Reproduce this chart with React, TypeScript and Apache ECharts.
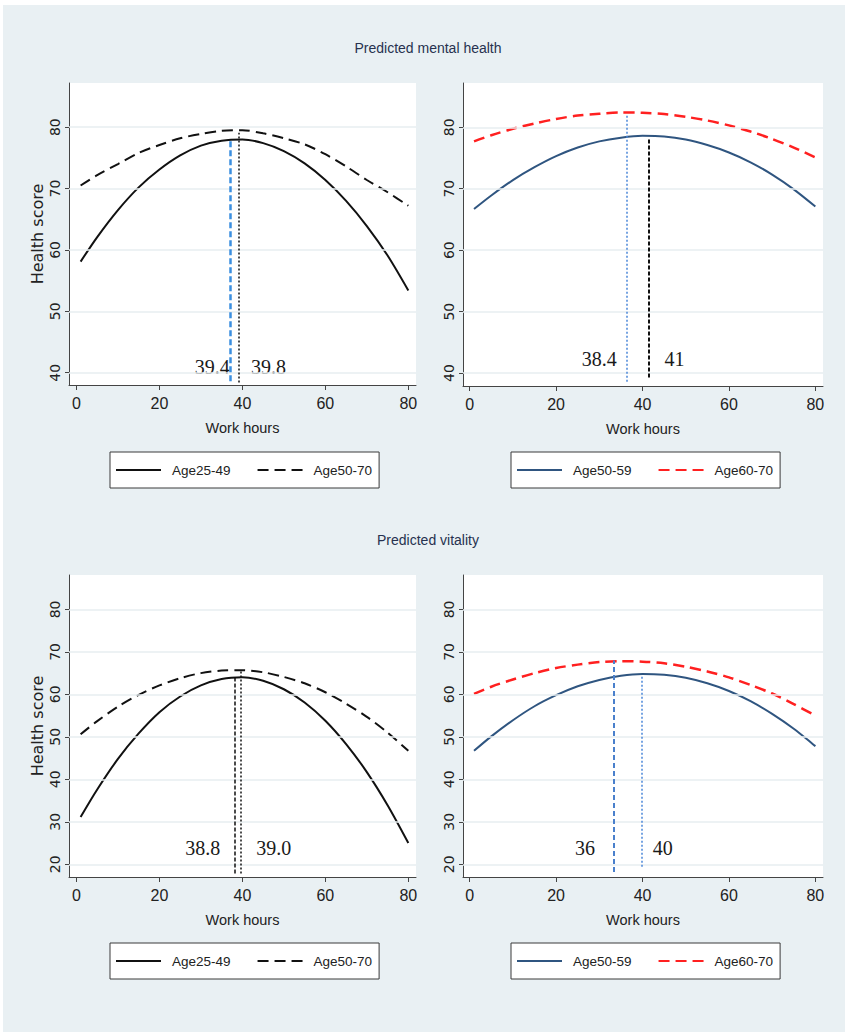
import React, { useEffect, useRef } from "react";
import * as echarts from "echarts";

// ---------- data ----------
const hours = [1, 5, 10, 15, 20, 25, 30, 35, 40, 45, 50, 55, 60, 65, 70, 75, 80];

const mentalAge25to49 = [58.1, 62.1, 66.5, 70.2, 73.1, 75.4, 77.0, 77.8, 78.0, 77.4, 76.1, 74.1, 71.4, 68.0, 63.9, 59.1, 53.4];
const mentalAge50to70 = [70.5, 72.2, 74.0, 75.8, 77.1, 78.2, 78.9, 79.4, 79.5, 79.0, 78.2, 77.2, 75.6, 73.6, 71.4, 69.4, 67.2];
const mentalAge50to59 = [66.7, 68.9, 71.4, 73.5, 75.3, 76.7, 77.7, 78.3, 78.6, 78.5, 78.0, 77.1, 75.9, 74.3, 72.3, 69.9, 67.1];
const mentalAge60to70 = [77.7, 78.7, 79.75, 80.6, 81.35, 81.9, 82.2, 82.4, 82.35, 82.15, 81.7, 81.1, 80.3, 79.3, 78.1, 76.7, 75.1];

const vitalityAge25to49 = [31.1, 37.6, 44.8, 50.8, 55.8, 59.5, 62.1, 63.6, 64.0, 63.2, 61.2, 58.1, 53.8, 48.3, 41.7, 33.9, 25.0];
const vitalityAge50to70 = [50.6, 53.7, 57.1, 59.9, 62.1, 63.8, 65.0, 65.6, 65.7, 65.2, 64.1, 62.6, 60.5, 57.8, 54.7, 51.0, 46.7];
const vitalityAge50to59 = [46.7, 50.1, 53.9, 57.2, 59.8, 61.9, 63.4, 64.4, 64.8, 64.6, 63.9, 62.6, 60.8, 58.4, 55.4, 51.9, 47.8];
const vitalityAge60to70 = [60.1, 61.8, 63.5, 65.0, 66.2, 67.0, 67.6, 67.8, 67.7, 67.3, 66.5, 65.4, 64.0, 62.2, 60.2, 57.7, 55.0];

const xTicks = [0, 20, 40, 60, 80];
const mentalYTicks = [40, 50, 60, 70, 80];
const vitalityYTicks = [20, 30, 40, 50, 60, 70, 80];

const panelTitles = ["Predicted mental health", "Predicted vitality"];
const xTitle = "Work hours";
const yTitle = "Health score";

// peak marker lines: hour, from score, to score
const mentalLeftPeakHours = [37.1, 39.1];
const mentalLeftPeakFrom = [38.6, 38.4];
const mentalLeftPeakTo = [77.7, 79.1];
const mentalRightPeakHours = [36.4, 41.5];
const mentalRightPeakFrom = [38.6, 39.3];
const mentalRightPeakTo = [81.9, 78.0];
const vitalityLeftPeakHours = [38.2, 39.5];
const vitalityLeftPeakFrom = [17.8, 17.8];
const vitalityLeftPeakTo = [64.0, 65.7];
const vitalityRightPeakHours = [33.4, 39.8];
const vitalityRightPeakFrom = [18.2, 19.4];
const vitalityRightPeakTo = [68.0, 64.5];

// peak annotations: text, anchor hour, anchor score
const mentalLeftLabelText = ["39.4", "39.8"];
const mentalLeftLabelHour = [38.4, 40.6];
const mentalLeftLabelScore = [40.9, 40.9];
const mentalRightLabelText = ["38.4", "41"];
const mentalRightLabelHour = [35.4, 43.7];
const mentalRightLabelScore = [42.3, 42.3];
const vitalityLeftLabelText = ["38.8", "39.0"];
const vitalityLeftLabelHour = [36.1, 41.9];
const vitalityLeftLabelScore = [23.9, 23.9];
const vitalityRightLabelText = ["36", "40"];
const vitalityRightLabelHour = [30.4, 41.0];
const vitalityRightLabelScore = [23.9, 23.9];

// ---------- styles ----------
const BG = "#e9f0f3";
const GRIDLINE = "#e7eef1";
const AXIS = "#444";
const SANS = "'Liberation Sans', Arial, sans-serif";
const SERIF = "'Liberation Serif', 'Times New Roman', serif";
const NAVY = "#2f5580";
const RED = "#ff2020";

type Panel = {
  grid: { left: number; top: number; width: number; height: number };
  xMin: number;
  xMax: number;
  yMin: number;
  yMax: number;
  yTicks: number[];
  showYTitle: boolean;
  names: [string, string];
  values: [number[], number[]];
  styles: [any, any];
  peakHours: number[];
  peakFrom: number[];
  peakTo: number[];
  peakStyles: any[];
  labelText: string[];
  labelHour: number[];
  labelScore: number[];
  legend: { left: number; top: number };
};

const black = { color: "#111", width: 2, type: "solid" };
const blackDash = { color: "#111", width: 2, type: [11, 6] };
const navySolid = { color: NAVY, width: 2, type: "solid" };
const redDash = { color: RED, width: 2.5, type: [11, 6] };

const panels: Panel[] = [
  {
    grid: { left: 69, top: 83, width: 347, height: 302 },
    xMin: -1.8, xMax: 81.85, yMin: 38.0, yMax: 87.2, yTicks: mentalYTicks, showYTitle: true,
    names: ["Age25-49", "Age50-70"], values: [mentalAge25to49, mentalAge50to70],
    styles: [black, blackDash],
    peakHours: mentalLeftPeakHours, peakFrom: mentalLeftPeakFrom, peakTo: mentalLeftPeakTo,
    peakStyles: [
      { color: "#3b8fe0", width: 2.5, type: [6, 3] },
      { color: "#111", width: 1.5, type: [2, 2] },
    ],
    labelText: mentalLeftLabelText, labelHour: mentalLeftLabelHour, labelScore: mentalLeftLabelScore,
    legend: { left: 110, top: 452 },
  },
  {
    grid: { left: 463, top: 83, width: 360, height: 303 },
    xMin: -1.55, xMax: 81.77, yMin: 37.9, yMax: 87.2, yTicks: mentalYTicks, showYTitle: false,
    names: ["Age50-59", "Age60-70"], values: [mentalAge50to59, mentalAge60to70],
    styles: [navySolid, redDash],
    peakHours: mentalRightPeakHours, peakFrom: mentalRightPeakFrom, peakTo: mentalRightPeakTo,
    peakStyles: [
      { color: "#4a86d8", width: 1.5, type: [2, 2] },
      { color: "#111", width: 2, type: [4, 2] },
    ],
    labelText: mentalRightLabelText, labelHour: mentalRightLabelHour, labelScore: mentalRightLabelScore,
    legend: { left: 511, top: 452 },
  },
  {
    grid: { left: 69, top: 575, width: 347, height: 302 },
    xMin: -1.8, xMax: 81.85, yMin: 17.0, yMax: 88.1, yTicks: vitalityYTicks, showYTitle: true,
    names: ["Age25-49", "Age50-70"], values: [vitalityAge25to49, vitalityAge50to70],
    styles: [black, blackDash],
    peakHours: vitalityLeftPeakHours, peakFrom: vitalityLeftPeakFrom, peakTo: vitalityLeftPeakTo,
    peakStyles: [
      { color: "#111", width: 1.5, type: [4, 2] },
      { color: "#111", width: 1.5, type: [2, 2] },
    ],
    labelText: vitalityLeftLabelText, labelHour: vitalityLeftLabelHour, labelScore: vitalityLeftLabelScore,
    legend: { left: 110, top: 943 },
  },
  {
    grid: { left: 463, top: 575, width: 360, height: 302 },
    xMin: -1.55, xMax: 81.77, yMin: 17.0, yMax: 88.1, yTicks: vitalityYTicks, showYTitle: false,
    names: ["Age50-59", "Age60-70"], values: [vitalityAge50to59, vitalityAge60to70],
    styles: [navySolid, redDash],
    peakHours: vitalityRightPeakHours, peakFrom: vitalityRightPeakFrom, peakTo: vitalityRightPeakTo,
    peakStyles: [
      { color: "#4a80cc", width: 2, type: [5, 3] },
      { color: "#4a86d8", width: 1.5, type: [2, 2] },
    ],
    labelText: vitalityRightLabelText, labelHour: vitalityRightLabelHour, labelScore: vitalityRightLabelScore,
    legend: { left: 511, top: 943 },
  },
];

function buildOption() {
  const grids: any[] = [];
  const xAxes: any[] = [];
  const yAxes: any[] = [];
  const series: any[] = [];
  const legends: any[] = [];

  panels.forEach((p, i) => {
    grids.push({
      ...p.grid,
      show: true,
      backgroundColor: "#fff",
      borderWidth: 0,
      containLabel: false,
    });
    xAxes.push({
      gridIndex: i,
      type: "value",
      min: p.xMin,
      max: p.xMax,
      axisLine: { show: true, onZero: false, lineStyle: { color: AXIS, width: 1 } },
      axisTick: { show: true, customValues: xTicks, length: 5, lineStyle: { color: AXIS } },
      axisLabel: {
        customValues: xTicks,
        fontFamily: SANS,
        fontSize: 16,
        color: "#222",
        margin: 10,
      },
      splitLine: { show: false },
      name: xTitle,
      nameLocation: "middle",
      nameGap: 35,
      nameTextStyle: { fontFamily: SANS, fontSize: 14.5, color: "#222" },
    });
    yAxes.push({
      gridIndex: i,
      type: "value",
      min: p.yMin,
      max: p.yMax,
      axisLine: { show: true, onZero: false, lineStyle: { color: AXIS, width: 1 } },
      axisTick: { show: true, customValues: p.yTicks, length: 4, lineStyle: { color: AXIS } },
      axisLabel: {
        customValues: p.yTicks,
        rotate: 90,
        fontFamily: "'DejaVu Sans', sans-serif",
        fontSize: 14,
        color: "#222",
        margin: 7,
      },
      splitLine: { show: false },
      name: p.showYTitle ? yTitle : "",
      nameLocation: "middle",
      nameGap: 24,
      nameTextStyle: { fontFamily: "'DejaVu Sans', sans-serif", fontSize: 16, color: "#222" },
    });

    // horizontal grid lines
    series.push({
      type: "line",
      xAxisIndex: i,
      yAxisIndex: i,
      data: [],
      silent: true,
      z: 1,
      markLine: {
        silent: true,
        symbol: ["none", "none"],
        label: { show: false },
        lineStyle: { color: GRIDLINE, width: 1.6, type: "solid" },
        data: p.yTicks.map((v) => ({ yAxis: v })),
      },
    });

    // annotation labels (white boxes)
    series.push({
      type: "scatter",
      xAxisIndex: i,
      yAxisIndex: i,
      symbolSize: 0,
      itemStyle: { color: "#fff", opacity: 1 },
      silent: true,
      z: 2,
      data: p.labelText.map((t, k) => ({
        value: [p.labelHour[k], p.labelScore[k]],
        label: {
          show: true,
          position: k === 0 ? "left" : "right",
          distance: 0,
          formatter: t,
          fontFamily: SERIF,
          fontSize: 20,
          color: "#1a1a1a",
          opacity: 1,
          backgroundColor: "#fff",
          padding: [3, 6, 3, 6],
        },
      })),
    });

    // curves
    p.names.forEach((name, k) => {
      series.push({
        type: "line",
        name,
        xAxisIndex: i,
        yAxisIndex: i,
        smooth: 0.3,
        symbol: "none",
        showSymbol: false,
        z: 3,
        lineStyle: p.styles[k],
        itemStyle: { color: p.styles[k].color },
        data: hours.map((h, j) => [h, p.values[k][j]]),
      });
    });

    // peak marker lines
    series.push({
      type: "line",
      xAxisIndex: i,
      yAxisIndex: i,
      data: [],
      silent: true,
      z: 4,
      markLine: {
        silent: true,
        symbol: ["none", "none"],
        label: { show: false },
        data: p.peakHours.map((h, k) => [
          { coord: [h, p.peakFrom[k]], lineStyle: p.peakStyles[k] },
          { coord: [h, p.peakTo[k]] },
        ]),
      },
    });

    legends.push({
      data: p.names,
      left: p.legend.left,
      top: p.legend.top,
      orient: "horizontal",
      backgroundColor: "#fff",
      borderColor: "#3a3a3a",
      borderWidth: 1,
      borderRadius: 0,
      padding: [9, 7, 9, 5],
      itemWidth: 45,
      itemHeight: 14,
      itemGap: 26,
      selectedMode: false,
      itemStyle: { opacity: 0 },
      textStyle: {
        fontFamily: SANS,
        fontSize: 13.5,
        color: "#222",
        padding: [0, 0, 0, 6],
        lineHeight: 18,
      },
    });
  });

  const graphic: any[] = [
    { type: "rect", shape: { x: 0, y: 0, width: 845, height: 5 }, style: { fill: "#fff" }, silent: true },
    { type: "rect", shape: { x: 0, y: 0, width: 3, height: 1032 }, style: { fill: "#fff" }, silent: true },
    {
      type: "text",
      x: 428,
      y: 48,
      style: {
        text: panelTitles[0],
        textAlign: "center",
        textVerticalAlign: "middle",
        fontFamily: SANS,
        fontSize: 14,
        fill: "#27324f",
      },
      silent: true,
    },
    {
      type: "text",
      x: 428,
      y: 540,
      style: {
        text: panelTitles[1],
        textAlign: "center",
        textVerticalAlign: "middle",
        fontFamily: SANS,
        fontSize: 14,
        fill: "#27324f",
      },
      silent: true,
    },
  ];

  return {
    animation: false,
    backgroundColor: BG,
    grid: grids,
    xAxis: xAxes,
    yAxis: yAxes,
    legend: legends,
    series,
    graphic,
  };
}

export default function App() {
  const ref = useRef<HTMLDivElement>(null);
  useEffect(() => {
    if (!ref.current) return;
    const chart = echarts.init(ref.current, undefined, { renderer: "svg" });
    chart.setOption(buildOption() as any);
    return () => chart.dispose();
  }, []);
  return (
    <div
      ref={ref}
      style={{ position: "absolute", left: 0, top: 0, width: 845, height: 1032 }}
    />
  );
}
